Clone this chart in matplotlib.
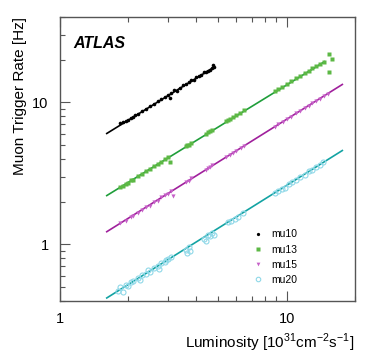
import matplotlib
matplotlib.use("Agg")
import matplotlib.pyplot as plt
from matplotlib.ticker import LogLocator, NullFormatter, FixedLocator, FixedFormatter

plt.rcParams['font.family'] = ['Liberation Sans', 'DejaVu Sans']
plt.rcParams['mathtext.fontset'] = 'custom'
plt.rcParams['mathtext.rm'] = 'Liberation Sans'

# ---- data ----
mu10_L = [1.85, 1.9, 1.95, 2.0, 2.05, 2.1, 2.15, 2.2, 2.3, 2.4, 2.5, 2.6, 2.7, 2.8, 2.9, 3.0,
          3.05, 3.1, 3.2, 3.3, 3.4, 3.5, 3.6, 3.7, 3.8, 3.9, 4.0, 4.1, 4.2, 4.3, 4.4, 4.5,
          4.6, 4.7, 4.75, 4.8]
mu10_R = [7.2, 7.25, 7.4, 7.55, 7.75, 7.95, 8.1, 8.3, 8.7, 9.05, 9.45, 9.8, 10.2, 10.6, 10.9, 11.3,
          10.7, 11.7, 12.2, 12.0, 12.6, 13.2, 13.5, 13.9, 14.3, 14.5, 15.1, 15.3, 15.7, 16.3, 16.4, 16.8,
          17.0, 17.6, 18.3, 17.9]

mu13_L = [1.85, 1.9, 1.95, 2.0, 2.05, 2.1, 2.2, 2.3, 2.4, 2.5, 2.6, 2.7, 2.8, 2.9, 3.0, 3.05,
          3.6, 3.65, 3.7, 3.8, 4.4, 4.5, 4.6, 4.7, 5.4, 5.5, 5.6, 5.8, 6.0, 6.2, 6.5,
          8.9, 9.2, 9.5, 10.0, 10.5, 11.0, 11.5, 12.0, 12.5, 13.0, 13.5, 14.0, 14.6,
          15.3, 15.4, 15.9]
mu13_R = [2.55, 2.58, 2.66, 2.72, 2.84, 2.86, 3.02, 3.12, 3.30, 3.40, 3.55, 3.70, 3.80, 3.98, 4.10, 3.80,
          4.90, 5.05, 5.00, 5.20, 6.00, 6.20, 6.25, 6.45, 7.35, 7.55, 7.60, 7.95, 8.15, 8.40, 8.85,
          12.0, 12.5, 12.8, 13.6, 14.1, 14.9, 15.4, 16.2, 16.7, 17.5, 18.0, 18.8, 19.2,
          16.5, 21.8, 20.1]

mu15_L = [1.85, 1.95, 2.05, 2.1, 2.2, 2.3, 2.4, 2.5, 2.6, 2.7, 2.8, 2.9, 3.0, 3.1, 3.15,
          3.6, 3.7, 3.8, 4.4, 4.5, 4.6, 4.7, 5.4, 5.6, 5.8, 6.0, 6.3, 6.5,
          8.9, 9.2, 9.6, 10.0, 10.5, 11.0, 11.5, 12.0, 12.5, 13.0, 13.5, 14.0, 14.6, 15.2]
mu15_R = [1.42, 1.46, 1.57, 1.60, 1.66, 1.75, 1.84, 1.88, 1.99, 2.04, 2.15, 2.22, 2.26, 2.38, 2.20,
          2.75, 2.80, 2.92, 3.35, 3.44, 3.50, 3.60, 4.10, 4.28, 4.40, 4.58, 4.78, 4.95,
          6.75, 7.02, 7.30, 7.60, 7.95, 8.40, 8.70, 9.15, 9.50, 9.85, 10.3, 10.6, 11.2, 11.4]

mu20_L = [1.8, 1.85, 1.9, 1.95, 2.0, 2.05, 2.1, 2.2, 2.25, 2.3, 2.4, 2.45, 2.5, 2.6, 2.7, 2.75,
          2.8, 2.9, 2.95, 3.0, 3.1, 3.6, 3.65, 3.7, 3.75, 4.3, 4.4, 4.5, 4.6, 4.7, 4.8,
          5.5, 5.7, 5.9, 6.1, 6.4, 8.9, 9.2, 9.5, 9.8, 10.2, 10.6, 11.0, 11.5, 12.0, 12.5,
          13.0, 13.5, 14.0, 14.5]
mu20_R = [0.47, 0.50, 0.46, 0.52, 0.51, 0.54, 0.55, 0.58, 0.56, 0.61, 0.62, 0.66, 0.64, 0.68, 0.70, 0.67,
          0.74, 0.75, 0.78, 0.79, 0.81, 0.92, 0.87, 0.96, 0.90, 1.10, 1.05, 1.17, 1.15, 1.20, 1.16,
          1.43, 1.46, 1.52, 1.55, 1.66, 2.30, 2.40, 2.46, 2.50, 2.66, 2.75, 2.85, 3.00, 3.10, 3.28,
          3.35, 3.52, 3.62, 3.80]

# fit lines (endpoints)
fit10_L, fit10_R = [1.61, 4.75], [6.05, 17.6]
fit13_L, fit13_R = [1.61, 14.7], [2.21, 19.4]
fit15_L, fit15_R = [1.61, 17.6], [1.23, 13.4]
fit20_L, fit20_R = [1.61, 17.6], [0.42, 4.59]

labels = ['mu10', 'mu13', 'mu15', 'mu20']

# ---- plot ----
fig = plt.figure(figsize=(3.74, 3.59), dpi=100)
ax = fig.add_axes([0.160, 0.1616, 0.789, 0.791])

ax.plot(fit10_L, fit10_R, color='black', lw=1.2)
ax.plot(fit13_L, fit13_R, color='#1f9e3a', lw=1.2)
ax.plot(fit15_L, fit15_R, color='#a0209c', lw=1.2)
ax.plot(fit20_L, fit20_R, color='#13a3a3', lw=1.2)

ax.plot(mu10_L, mu10_R, 'o', ms=2.6, color='black', mec='none', label=labels[0])
ax.plot(mu13_L, mu13_R, 's', ms=2.8, color='#5cb845', mec='none', label=labels[1])
ax.plot(mu15_L, mu15_R, 'v', ms=3.0, color='#c660c8', mec='none', label=labels[2])
ax.plot(mu20_L, mu20_R, 'o', ms=3.6, mfc='none', mec='#8fd8e8', mew=0.8, label=labels[3])

ax.set_xscale('log')
ax.set_yscale('log')
ax.set_xlim(1, 20)
ax.set_ylim(0.4, 40)

ax.xaxis.set_major_locator(FixedLocator([1, 10]))
ax.xaxis.set_major_formatter(FixedFormatter(['1', '10']))
ax.yaxis.set_major_locator(FixedLocator([1, 10]))
ax.yaxis.set_major_formatter(FixedFormatter(['1', '10']))
ax.xaxis.set_minor_locator(LogLocator(base=10, subs=range(2, 10)))
ax.yaxis.set_minor_locator(LogLocator(base=10, subs=range(2, 10)))
ax.xaxis.set_minor_formatter(NullFormatter())
ax.yaxis.set_minor_formatter(NullFormatter())

for s in ax.spines.values():
    s.set_color('#555555')
    s.set_linewidth(1.0)
ax.tick_params(which='both', direction='in', top=True, right=False, color='#555555',
               labelsize=10.5, width=0.8)
ax.tick_params(which='major', length=7, pad=8)
ax.tick_params(which='minor', length=3.5)

ax.set_xlabel('Luminosity [10$^{31}$cm$^{-2}$s$^{-1}$]', fontsize=11, loc='right')
ax.set_ylabel('Muon Trigger Rate [Hz]', fontsize=11, loc='top')

ax.text(0.045, 0.905, 'ATLAS', transform=ax.transAxes, fontsize=11.5,
        fontweight='bold', fontstyle='italic', va='center', ha='left')

ax.legend(loc='upper left', bbox_to_anchor=(0.62, 0.285), frameon=False, fontsize=7.5,
          handlelength=1.2, handletextpad=0.6, labelspacing=0.5, markerscale=0.9)

fig.savefig('out.png', dpi=100)
